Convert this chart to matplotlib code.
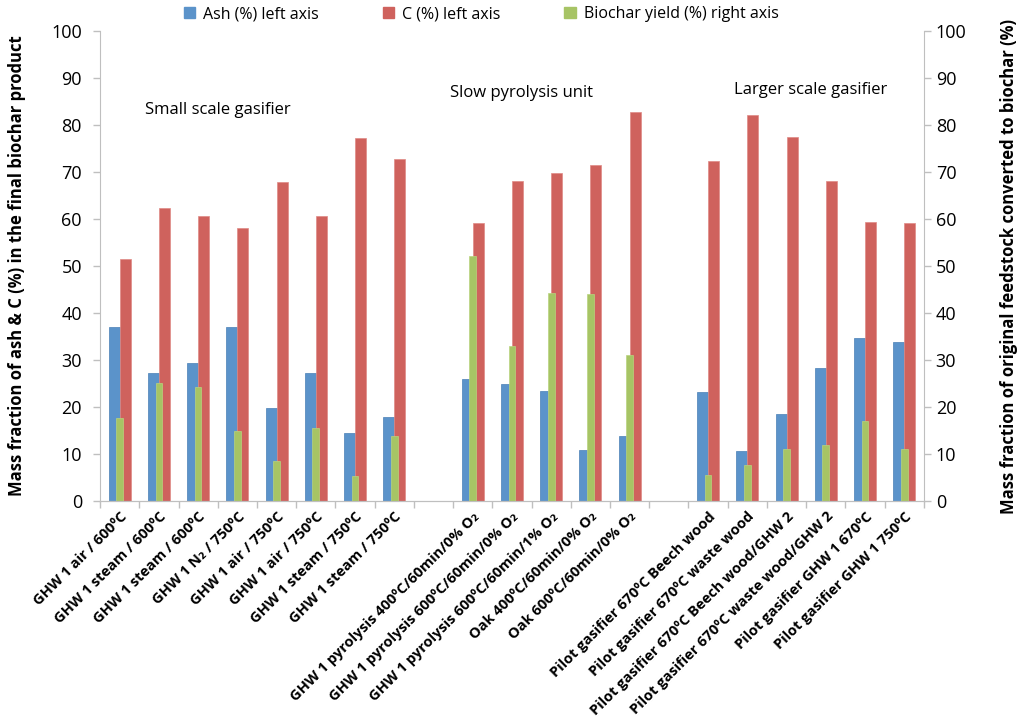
import numpy as np
import matplotlib.pyplot as plt
from matplotlib.patches import Patch

plt.rcParams['font.family'] = ['Open Sans', 'DejaVu Sans']

categories = [
    "GHW 1 air / 600ºC", "GHW 1 steam / 600ºC", "GHW 1 steam / 600ºC",
    "GHW 1 N₂ / 750ºC", "GHW 1 air / 750ºC", "GHW 1 air / 750ºC",
    "GHW 1 steam / 750ºC", "GHW 1 steam / 750ºC", "",
    "GHW 1 pyrolysis 400ºC/60min/0% O₂", "GHW 1 pyrolysis 600ºC/60min/0% O₂",
    "GHW 1 pyrolysis 600ºC/60min/1% O₂", "Oak 400ºC/60min/0% O₂",
    "Oak 600ºC/60min/0% O₂", "",
    "Pilot gasifier 670ºC Beech wood", "Pilot gasifier 670ºC waste wood",
    "Pilot gasifier 670ºC Beech wood/GHW 2", "Pilot gasifier 670ºC waste wood/GHW 2",
    "Pilot gasifier GHW 1 670ºC", "Pilot gasifier GHW 1 750ºC",
]
nan = np.nan
ash = [37.1, 27.2, 29.3, 37.1, 19.7, 27.2, 14.4, 17.9, nan,
       26.0, 25.0, 23.5, 10.9, 13.9, nan,
       23.2, 10.6, 18.6, 28.4, 34.8, 33.9]
carbon = [51.6, 62.4, 60.7, 58.2, 67.9, 60.7, 77.2, 72.8, nan,
          59.2, 68.2, 69.9, 71.5, 82.7, nan,
          72.4, 82.2, 77.4, 68.0, 59.3, 59.1]
yield_ = [17.6, 25.2, 24.2, 15.0, 8.5, 15.5, 5.4, 13.8, nan,
          52.1, 33.0, 44.2, 44.0, 31.1, nan,
          5.5, 7.6, 11.0, 12.0, 17.0, 11.0]
groups = ["Small scale gasifier", "Slow pyrolysis unit", "Larger scale gasifier"]
group_pos = [(0.65, 83.2), (8.43, 86.8), (15.67, 87.4)]

c_blue = "#5B93CA"
c_red = "#CF625D"
c_green = "#A7C465"
grey = "#BFBFBF"

fig = plt.figure(figsize=(10.24, 7.22), dpi=100)
ax = fig.add_axes([0.0977, 0.306, 0.8045, 0.651])
ax2 = ax.twinx()

x = np.arange(len(categories))
w = 0.28
ax.bar(x - w / 2, ash, w, color=c_blue, edgecolor="#4A7FB5", linewidth=0.5)
ax.bar(x + w / 2, carbon, w, color=c_red, edgecolor="#E08A86", linewidth=0.5)
ax2.bar(x, yield_, 0.17, color=c_green, edgecolor="#B9D47E", linewidth=0.5)

for a in (ax, ax2):
    a.set_ylim(0, 100)
    a.set_yticks(range(0, 101, 10))
    a.set_xlim(-0.5, len(categories) - 0.5)
    a.spines['top'].set_visible(False)
    for s in a.spines.values():
        s.set_color(grey)
    a.tick_params(axis='y', colors=grey, labelcolor='black', labelsize=13,
                  length=5, width=1)

ax.tick_params(axis='y', pad=8)
ax.spines['right'].set_visible(False)
ax2.spines['left'].set_visible(False)

ax.set_xticks(x)
ax.set_xticklabels(categories, rotation=45, ha='right', rotation_mode='anchor',
                   fontsize=10.5, fontweight='bold')
ax.tick_params(axis='x', which='major', length=0, pad=6)
ax.set_xticks(np.arange(-0.5, len(categories) + 0.5, 1), minor=True)
ax.tick_params(axis='x', which='minor', length=5, color=grey, width=1)

ax.set_ylabel("Mass fraction of ash & C (%) in the final biochar product",
              fontsize=12, fontweight='bold', labelpad=18)
ax2.set_ylabel("Mass fraction of original feedstock converted to biochar (%)",
               fontsize=12, fontweight='bold', labelpad=24)

for name, (gx, gy) in zip(groups, group_pos):
    ax.text(gx, gy, name, fontsize=12, ha='left', va='center')

handles = [Patch(color=c_blue), Patch(color=c_red), Patch(color=c_green)]
fig.legend(handles, ["Ash (%) left axis", "C (%) left axis",
                     "Biochar yield (%) right axis"],
           loc='center', bbox_to_anchor=(0.47, 0.98), ncol=3, frameon=False,
           fontsize=11.5, handlelength=0.7, handleheight=0.7, columnspacing=4,
           handletextpad=0.5)

fig.savefig("out.png", dpi=100)
